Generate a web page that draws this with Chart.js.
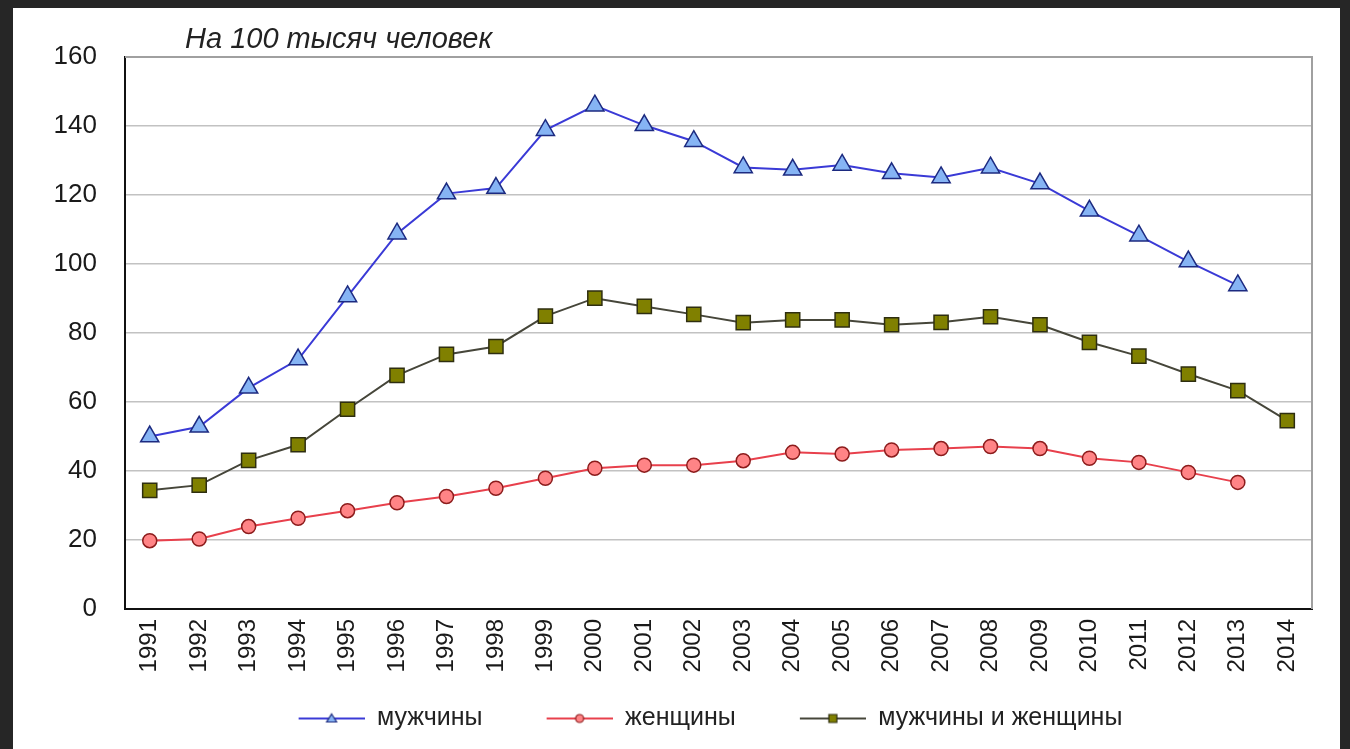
<!DOCTYPE html>
<html>
<head>
<meta charset="utf-8">
<script src="https://cdn.jsdelivr.net/npm/chart.js@4"></script>
<style>
html, body { margin: 0; padding: 0; background: #262626; width: 1350px; height: 749px; overflow: hidden; }
#box { position: absolute; left: 13px; top: 8px; width: 1327px; height: 741px; background: #fff; }
</style>
</head>
<body>
<div id="box"><canvas id="rateChart"></canvas></div>
<script>
// Data (per 100 000 people)
const years = ['1991', '1992', '1993', '1994', '1995', '1996', '1997', '1998', '1999', '2000', '2001', '2002',
               '2003', '2004', '2005', '2006', '2007', '2008', '2009', '2010', '2011', '2012', '2013', '2014'];
const men = [50, 52.8, 64.1, 72.3, 90.6, 108.8, 120.4, 122, 138.8, 145.9, 140.2, 135.6,
             128, 127.3, 128.7, 126.3, 125.1, 127.9, 123.3, 115.4, 108.2, 100.7, 93.8, null];
const women = [19.8, 20.3, 23.9, 26.3, 28.5, 30.8, 32.6, 35, 37.9, 40.8, 41.7, 41.7,
               43, 45.4, 44.9, 46.1, 46.5, 47.1, 46.5, 43.7, 42.5, 39.6, 36.7, null];
const both = [34.4, 35.9, 43.1, 47.6, 57.9, 67.7, 73.8, 76.1, 84.9, 90.1, 87.7, 85.4,
              83, 83.8, 83.8, 82.4, 83.1, 84.7, 82.4, 77.3, 73.3, 68.1, 63.3, 54.6];
const yTicks = [0, 20, 40, 60, 80, 100, 120, 140, 160];
const seriesNames = ['мужчины', 'женщины', 'мужчины и женщины'];

const FONT = "'Liberation Sans', Arial, sans-serif";

// small legend picture: line with the marker in the middle (empty space before the line)
function legendIcon(lineColor, fill, border, shape) {
    const lead = 60, len = 66;
    const c = document.createElement('canvas');
    c.width = lead + len;
    c.height = 16;
    const g = c.getContext('2d');
    g.strokeStyle = lineColor;
    g.lineWidth = 2;
    g.beginPath();
    g.moveTo(lead, 8);
    g.lineTo(lead + len, 8);
    g.stroke();
    const cx = lead + len / 2;
    g.fillStyle = fill;
    g.strokeStyle = border;
    g.lineWidth = 1.2;
    g.beginPath();
    if (shape === 'triangle') {
        g.moveTo(cx, 3.5); g.lineTo(cx + 5, 11.5); g.lineTo(cx - 5, 11.5); g.closePath();
    } else if (shape === 'circle') {
        g.arc(cx, 8, 4, 0, Math.PI * 2);
    } else {
        g.rect(cx - 4, 4, 8, 8);
    }
    g.fill();
    g.stroke();
    return c;
}

const seriesStyles = [
    { line: '#3a3ad6', fill: '#86b4f4', border: '#1c2a80', shape: 'triangle', radius: 10.5 },
    { line: '#e8404c', fill: '#ff8486', border: '#8c1c1c', shape: 'circle', radius: 7 },
    { line: '#46463a', fill: '#808000', border: '#2e2e10', shape: 'rect', radius: 10 }
];
const seriesData = [men, women, both];

const datasets = seriesData.map((values, i) => ({
    label: seriesNames[i],
    data: values,
    borderColor: seriesStyles[i].line,
    borderWidth: 2,
    backgroundColor: seriesStyles[i].fill,
    pointStyle: seriesStyles[i].shape,
    pointRadius: seriesStyles[i].radius,
    pointBackgroundColor: seriesStyles[i].fill,
    pointBorderColor: seriesStyles[i].border,
    pointBorderWidth: 1.5,
    tension: 0,
    fill: false
}));

const legendIcons = seriesStyles.map(s => legendIcon(s.line, s.fill, s.border, s.shape));

// frame on the top and right of the plot + caption above it
const framePlugin = {
    id: 'frame',
    beforeDatasetsDraw(chart) {
        const { ctx, chartArea: a } = chart;
        ctx.save();
        ctx.strokeStyle = '#a0a0a0';
        ctx.lineWidth = 2;
        ctx.beginPath();
        ctx.moveTo(a.left, a.top);
        ctx.lineTo(a.right, a.top);
        ctx.lineTo(a.right, a.bottom);
        ctx.stroke();
        ctx.restore();
    },
    afterDraw(chart) {
        const { ctx, chartArea: a } = chart;
        ctx.save();
        ctx.font = "italic 29px " + FONT;
        ctx.fillStyle = '#222';
        ctx.textBaseline = 'alphabetic';
        ctx.fillText('На 100 тысяч человек', a.left + 60, a.top - 9);
        ctx.restore();
    }
};

new Chart(document.getElementById('rateChart'), {
    type: 'line',
    data: { labels: years, datasets: datasets },
    plugins: [framePlugin],
    options: {
        responsive: true,
        maintainAspectRatio: false,
        animation: false,
        // left padding + y axis width keep the plot at the same place, and move the legend right
        layout: { padding: { top: 49, right: 28, bottom: 8, left: 36 } },
        plugins: {
            tooltip: { enabled: false },
            title: { display: false },
            legend: {
                position: 'bottom',
                labels: {
                    usePointStyle: true,
                    pointStyleWidth: 126,
                    padding: 4,
                    color: '#222',
                    font: { family: FONT, size: 25 },
                    generateLabels(chart) {
                        return chart.data.datasets.map((ds, i) => ({
                            text: ds.label,
                            pointStyle: legendIcons[i],
                            fillStyle: ds.backgroundColor,
                            strokeStyle: ds.borderColor,
                            lineWidth: 0,
                            hidden: false,
                            datasetIndex: i,
                            fontColor: '#222'
                        }));
                    }
                }
            }
        },
        scales: {
            x: {
                offset: true,
                grid: { display: false, drawTicks: false },
                border: { display: true, color: '#111', width: 2 },
                ticks: {
                    color: '#1a1a1a',
                    font: { family: FONT, size: 24 },
                    maxRotation: 90,
                    minRotation: 90,
                    autoSkip: false,
                    padding: 10
                },
                afterFit(scale) { scale.height = 93; }
            },
            y: {
                min: 0,
                max: 160,
                afterBuildTicks(scale) { scale.ticks = yTicks.map(v => ({ value: v })); },
                grid: { color: '#c2c2c2', lineWidth: 1.6, drawTicks: false },
                border: { display: true, color: '#111', width: 2 },
                ticks: {
                    color: '#1a1a1a',
                    font: { family: FONT, size: 26 },
                    padding: 28
                },
                afterFit(scale) { scale.width = 76; }
            }
        }
    }
});
</script>
</body>
</html>
